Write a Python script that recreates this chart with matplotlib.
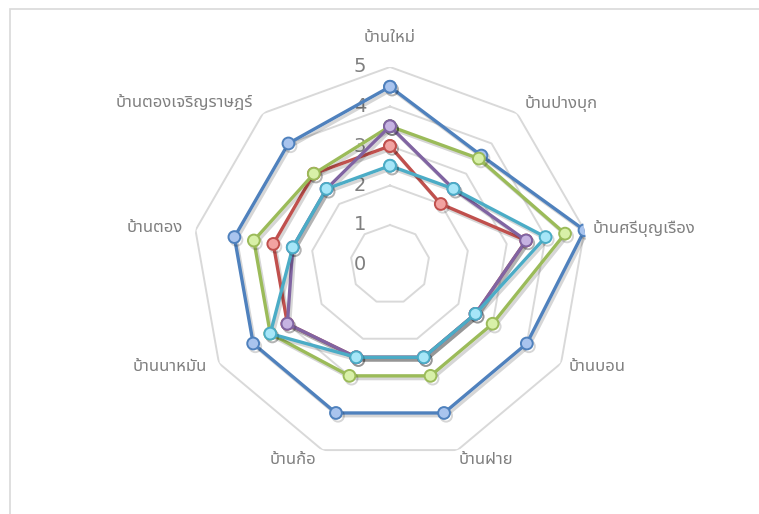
import numpy as np
import matplotlib
matplotlib.use("Agg")
import matplotlib.pyplot as plt
import matplotlib.patheffects as pe
from matplotlib import font_manager
from matplotlib.ft2font import FT2Font
from matplotlib.patches import Rectangle
from matplotlib.transforms import offset_copy

categories = ["บ้านใหม่", "บ้านปางบุก", "บ้านศรีบุญเรือง", "บ้านบอน", "บ้านฝาย",
              "บ้านก้อ", "บ้านนาหมัน", "บ้านตอง", "บ้านตองเจริญราษฎร์"]
series_blue = [4.5, 3.6, 5.0, 4.0, 4.0, 4.0, 4.0, 4.0, 4.0]
series_red = [3.0, 2.0, 3.5, 2.5, 2.5, 2.5, 3.0, 3.0, 3.0]
series_green = [3.5, 3.5, 4.5, 3.0, 3.0, 3.0, 3.5, 3.5, 3.0]
series_purple = [3.5, 2.5, 3.5, 2.5, 2.5, 2.5, 3.0, 2.5, 2.5]
series_cyan = [2.5, 2.5, 4.0, 2.5, 2.5, 2.5, 3.5, 2.5, 2.5]
r_ticks = [0, 1, 2, 3, 4, 5]


def find_thai_font():
    # pick any installed font that has Thai glyphs
    preferred = ["Noto Sans Thai", "Noto Sans Thai Looped", "Noto Serif Thai",
                 "Loma", "Garuda", "Norasi", "Waree", "Sawasdee", "Kinnari"]
    found = []
    for f in font_manager.fontManager.ttflist:
        try:
            cmap = FT2Font(f.fname).get_charmap()
        except Exception:
            continue
        if ord("บ") in cmap:
            found.append(f.name)
    for name in preferred:
        if name in found:
            return name
    return found[0] if found else "DejaVu Sans"


thai = find_thai_font()
plt.rcParams["font.family"] = [thai, "DejaVu Sans"]

fig = plt.figure(figsize=(7.59, 5.14), dpi=100)

# chart frame (right and bottom edges fall outside the picture)
fig.add_artist(Rectangle((10 / 759, -0.05), 2, 1 - 9 / 514 + 0.05,
                         transform=fig.transFigure, fill=False,
                         edgecolor="#D9D9D9", lw=1.2))

ax = fig.add_axes([192.5 / 759, 52 / 514, 395 / 759, 395 / 514], projection="polar")
ax.set_theta_zero_location("N")
ax.set_theta_direction(-1)
ax.set_ylim(0, 5)
ax.set_axis_off()

n = len(categories)
theta = np.linspace(0, 2 * np.pi, n, endpoint=False)
theta_c = np.append(theta, theta[0])

for r in r_ticks[1:]:
    ax.plot(theta_c, [r] * (n + 1), color="#D9D9D9", lw=1.4, zorder=1)

styles = [
    (series_blue, "#4F81BD", "#A9C4EE"),
    (series_red, "#C0504D", "#F2A3A1"),
    (series_green, "#9BBB59", "#D8F0A8"),
    (series_purple, "#8064A2", "#C6B3E2"),
    (series_cyan, "#4BACC6", "#A6E6F8"),
]
shadow = [pe.SimpleLineShadow(offset=(1.5, -2), shadow_color="black", alpha=0.16),
          pe.Normal()]
for i, (vals, col, face) in enumerate(styles):
    v = list(vals) + [vals[0]]
    ax.plot(theta_c, v, color=col, lw=2.4, marker="o", ms=8.5,
            mfc=face, mec=col, mew=1.4, zorder=3 + i, path_effects=shadow)

for r in r_ticks:
    ax.text(0, r, str(r), transform=offset_copy(ax.transData, fig, x=-30, y=0, units="dots"),
            ha="center", va="center", fontsize=14, color="#7F7F7F",
            family=["DejaVu Sans"], zorder=2)

label_pos = [
    (0, 29, "center"), (8, 10, "left"), (8, 2, "left"), (8, -4, "left"),
    (1, -10, "left"), (-6, -10, "right"), (-12, -4, "right"), (-13, 2, "right"),
    (-10, 10, "right"),
]
for t, name, (dx, dy, ha) in zip(theta, categories, label_pos):
    ax.text(t, 5, name, transform=offset_copy(ax.transData, fig, x=dx, y=dy, units="dots"),
            ha=ha, va="center", fontsize=12, color="#7F7F7F")

fig.savefig("out.png", dpi=100)
